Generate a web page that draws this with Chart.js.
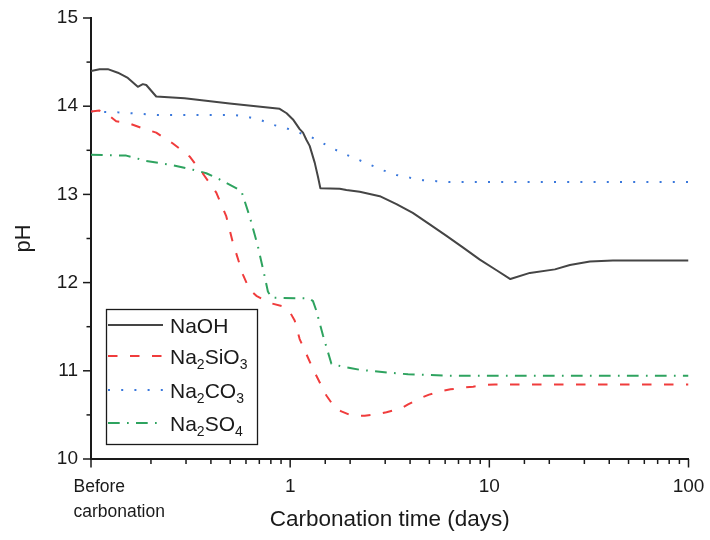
<!DOCTYPE html>
<html>
<head>
<meta charset="utf-8">
<script src="https://cdn.jsdelivr.net/npm/chart.js@4.4.1/dist/chart.umd.min.js"></script>
<style>
  html, body { margin: 0; padding: 0; background: #ffffff; }
  #wrap { width: 710px; height: 540px; }
</style>
</head>
<body>
<div id="wrap"><canvas id="c" width="710" height="540"></canvas></div>
<script>
// pH of the pore solution against carbonation time for four sodium activators
const seriesNames = ['NaOH', 'Na2SiO3', 'Na2CO3', 'Na2SO4'];

const naohDays = [0.1, 0.1104, 0.1215, 0.1364, 0.1531, 0.1718, 0.1821, 0.1894, 0.2126, 0.295, 0.4966,
  0.8856, 0.96, 1.033, 1.116, 1.16, 1.206, 1.253, 1.328, 1.379, 1.418, 1.773, 1.916, 2.235, 2.818,
  3.418, 4.127, 5.02, 6.095, 7.36, 8.96, 10.87, 12.75, 15.98, 21.34, 25.38, 31.99, 41.74, 100];
const naohPH = [14.40, 14.42, 14.42, 14.38, 14.32, 14.22, 14.25, 14.24, 14.11, 14.09, 14.03,
  13.97, 13.92, 13.85, 13.74, 13.70, 13.62, 13.55, 13.36, 13.20, 13.07, 13.065, 13.05, 13.03, 12.98,
  12.89, 12.79, 12.66, 12.53, 12.40, 12.26, 12.14, 12.04, 12.11, 12.15, 12.20, 12.24, 12.25, 12.25];

const silicateDays = [0.1, 0.1104, 0.1239, 0.1338, 0.1531, 0.1815, 0.2126, 0.2567, 0.3126, 0.3634,
  0.4257, 0.4779, 0.5161, 0.5791, 0.6259, 0.6763, 0.7888, 0.9202, 0.9943, 1.0534, 1.116, 1.206,
  1.302, 1.520, 1.674, 1.808, 1.991, 2.151, 2.368, 2.762, 3.044, 3.579, 3.908, 4.511, 4.984, 5.751,
  6.383, 7.445, 8.290, 9.603, 10.66, 100];
const silicatePH = [13.94, 13.95, 13.89, 13.83, 13.81, 13.75, 13.70, 13.58, 13.43, 13.24,
  13.02, 12.75, 12.45, 12.09, 11.92, 11.85, 11.77, 11.73, 11.67, 11.57, 11.36, 11.19,
  11.02, 10.72, 10.585, 10.54, 10.50, 10.49, 10.49, 10.51, 10.53, 10.57, 10.62, 10.69, 10.73, 10.77,
  10.79, 10.81, 10.82, 10.84, 10.845, 10.845];

const carbonateDays = [0.1, 0.1364, 0.2159, 0.5262, 0.6116, 0.7166, 0.8167, 0.957, 1.107, 1.278,
  1.462, 1.674, 1.916, 2.217, 2.559, 2.960, 3.418, 3.986, 4.649, 5.428, 6.332, 100];
const carbonatePH = [13.94, 13.93, 13.90, 13.90, 13.88, 13.84, 13.79, 13.75, 13.70, 13.65,
  13.58, 13.51, 13.45, 13.39, 13.33, 13.27, 13.22, 13.19, 13.16, 13.15, 13.14, 13.14];

const sulfateDays = [0.1, 0.1503, 0.1894, 0.2577, 0.3248, 0.3793, 0.4421, 0.5687, 0.6259, 0.6889,
  0.7446, 0.773, 0.804, 1.253, 1.302, 1.354, 1.462, 1.611, 1.808, 2.030, 2.253, 2.509, 3.101,
  3.908, 4.836, 6.332, 100];
const sulfatePH = [13.45, 13.44, 13.38, 13.33, 13.28, 13.24, 13.17, 13.04, 12.75, 12.41,
  12.07, 11.90, 11.83, 11.82, 11.79, 11.68, 11.40, 11.08, 11.05, 11.03, 11.01, 11.00, 10.98,
  10.96, 10.955, 10.945, 10.945];

// Axis ranges and labels
const dayMin = 0.1, dayMax = 100;
const phMin = 10, phMax = 15;
const phMinorTicks = [10.5, 11.5, 12.5, 13.5, 14.5];
const firstDayLabel = ['Before', 'carbonation'];

const FONT = "'Liberation Sans', Arial, Helvetica, sans-serif";
const INK = '#1a1a1a';

function toPoints(xs, ys) { return xs.map((d, i) => ({ x: d, y: ys[i] })); }
function isDecade(v) { const l = Math.log10(v); return Math.abs(l - Math.round(l)) < 1e-6; }

// Tick marks, the two-line first category label and the framed legend
const decorations = {
  id: 'decorations',
  afterDraw(chart) {
    const { ctx, scales: { x, y } } = chart;
    ctx.save();
    ctx.strokeStyle = INK;
    ctx.lineWidth = 1.5;
    ctx.setLineDash([]);
    const ax = x.left, ay = y.bottom;

    // y ticks (outward)
    y.ticks.forEach(t => {
      const py = y.getPixelForValue(t.value);
      ctx.beginPath(); ctx.moveTo(ax - 8, py); ctx.lineTo(ax, py); ctx.stroke();
    });
    phMinorTicks.forEach(v => {
      const py = y.getPixelForValue(v);
      ctx.beginPath(); ctx.moveTo(ax - 4.5, py); ctx.lineTo(ax, py); ctx.stroke();
    });
    // x ticks (outward)
    x.ticks.forEach(t => {
      const px = x.getPixelForValue(t.value);
      const len = isDecade(t.value) ? 8.5 : 5;
      ctx.beginPath(); ctx.moveTo(px, ay); ctx.lineTo(px, ay + len); ctx.stroke();
    });

    // first x label, left-aligned under the origin
    ctx.fillStyle = INK;
    ctx.font = '17.5px ' + FONT;
    ctx.textAlign = 'left';
    ctx.textBaseline = 'alphabetic';
    const fx = x.getPixelForValue(dayMin) - 17.5;
    ctx.fillText(firstDayLabel[0], fx, 492);
    ctx.fillText(firstDayLabel[1], fx, 517);

    // legend
    const box = { l: 106.5, t: 309.5, w: 151, h: 135 };
    ctx.lineWidth = 1.3;
    ctx.strokeStyle = INK;
    ctx.strokeRect(box.l, box.t, box.w, box.h);
    const rows = [325, 356, 390, 423];
    chart.data.datasets.forEach((ds, i) => {
      const ry = rows[i];
      ctx.save();
      ctx.strokeStyle = ds.borderColor;
      ctx.lineWidth = ds.borderWidth;
      ctx.setLineDash(ds.borderDash || []);
      ctx.beginPath(); ctx.moveTo(108, ry); ctx.lineTo(163, ry); ctx.stroke();
      ctx.restore();
      // text with digits set as subscripts
      let tx = 170;
      const base = ry + 7.6;
      for (const ch of ds.label) {
        if (/[0-9]/.test(ch)) {
          ctx.font = '14px ' + FONT;
          ctx.fillText(ch, tx, base + 5);
          tx += ctx.measureText(ch).width;
        } else {
          ctx.font = '21px ' + FONT;
          ctx.fillText(ch, tx, base);
          tx += ctx.measureText(ch).width;
        }
      }
    });
    ctx.restore();
  }
};

const lineStyle = { pointRadius: 0, pointHoverRadius: 0, tension: 0, fill: false, borderJoinStyle: 'round' };

new Chart(document.getElementById('c'), {
  type: 'line',
  data: {
    datasets: [
      Object.assign({ label: seriesNames[0], data: toPoints(naohDays, naohPH),
        borderColor: '#454545', borderWidth: 2 }, lineStyle),
      Object.assign({ label: seriesNames[1], data: toPoints(silicateDays, silicatePH),
        borderColor: '#f03c3c', borderWidth: 2, borderDash: [9.5, 12.5] }, lineStyle),
      Object.assign({ label: seriesNames[2], data: toPoints(carbonateDays, carbonatePH),
        borderColor: '#3a78dc', borderWidth: 2, borderDash: [2, 11.2] }, lineStyle),
      Object.assign({ label: seriesNames[3], data: toPoints(sulfateDays, sulfatePH),
        borderColor: '#2ea35f', borderWidth: 2, borderDash: [11.7, 7.3, 1.7, 7.3] }, lineStyle)
    ]
  },
  options: {
    responsive: false,
    animation: false,
    devicePixelRatio: 1,
    layout: { padding: { left: 0, right: 21.5, top: 18, bottom: 0 } },
    plugins: { legend: { display: false }, tooltip: { enabled: false } },
    scales: {
      x: {
        type: 'logarithmic',
        min: dayMin, max: dayMax,
        grid: { display: false, drawTicks: false },
        border: { display: true, color: INK, width: 2 },
        ticks: {
          autoSkip: false, maxRotation: 0, minRotation: 0, padding: 16,
          color: INK, font: { family: FONT, size: 19 },
          callback: v => (isDecade(v) && v >= 1) ? String(Math.round(v)) : ''
        },
        title: { display: true, text: 'Carbonation time (days)', color: INK,
          font: { family: FONT, size: 22.5 }, padding: { top: 0, bottom: 7 } },
        afterFit: s => { s.height = 81; s.paddingLeft = 0; s.paddingRight = 0; }
      },
      y: {
        type: 'linear',
        min: phMin, max: phMax,
        grid: { display: false, drawTicks: false },
        border: { display: true, color: INK, width: 2 },
        ticks: { stepSize: 1, padding: 13, color: INK, font: { family: FONT, size: 19 } },
        title: { display: true, text: 'pH', color: INK,
          font: { family: FONT, size: 22 }, padding: { top: 11, bottom: 0 } },
        afterFit: s => { s.width = 91; s.paddingTop = 0; s.paddingBottom = 0; }
      }
    }
  },
  plugins: [decorations]
});
</script>
</body>
</html>
